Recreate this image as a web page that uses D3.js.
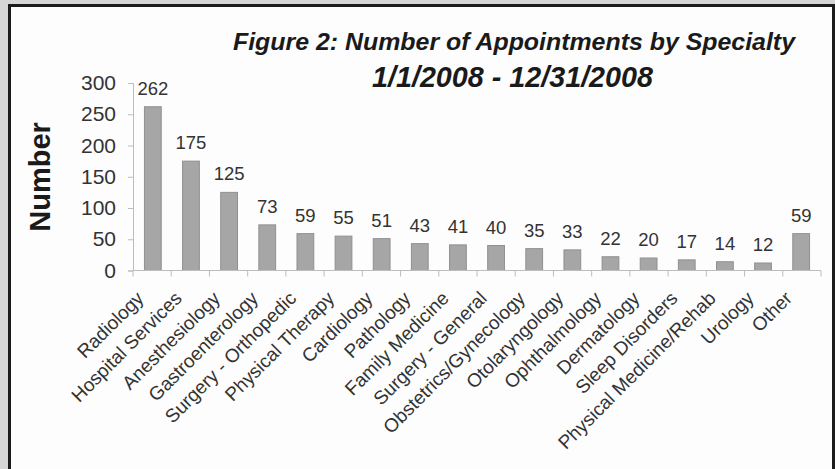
<!DOCTYPE html>
<html>
<head>
<meta charset="utf-8">
<script src="https://cdn.jsdelivr.net/npm/d3@7"></script>
<style>
  html, body { margin: 0; padding: 0; background: #d6d6d6; }
  svg { display: block; }
</style>
</head>
<body>
<svg id="chart" width="835" height="469"></svg>
<script>
// Appointments per specialty, calendar year 2008
const specialties = [
  "Radiology", "Hospital Services", "Anesthesiology", "Gastroenterology",
  "Surgery - Orthopedic", "Physical Therapy", "Cardiology", "Pathology",
  "Family Medicine", "Surgery - General", "Obstetrics/Gynecology",
  "Otolaryngology", "Ophthalmology", "Dermatology", "Sleep Disorders",
  "Physical Medicine/Rehab", "Urology", "Other"
];
const appointments = [262, 175, 125, 73, 59, 55, 51, 43, 41, 40, 35, 33, 22, 20, 17, 14, 12, 59];
const yTicks = [0, 50, 100, 150, 200, 250, 300];
const titleLines = ["Figure 2: Number of Appointments by Specialty", "1/1/2008 - 12/31/2008"];
const yAxisTitle = "Number";

const svg = d3.select("#chart");
const W = 835, H = 469;

// framed panel
svg.append("rect").attr("x", 0).attr("y", 0).attr("width", W).attr("height", H).attr("fill", "#d6d6d6");
svg.append("rect").attr("x", 9.5).attr("y", 5.5).attr("width", 824).attr("height", 470)
  .attr("fill", "#fdfdfd").attr("stroke", "#1c1c1c").attr("stroke-width", 3);

const plot = { left: 133, right: 821, top: 83, bottom: 270.5 };

const x = d3.scaleBand()
  .domain(specialties)
  .range([plot.left, plot.right])
  .paddingInner(0.56)
  .paddingOuter(0.3);

const y = d3.scaleLinear().domain([0, 300]).range([plot.bottom, plot.top]);

// bars
svg.append("g").selectAll("rect")
  .data(specialties)
  .join("rect")
  .attr("x", (d) => x(d))
  .attr("y", (d, i) => y(appointments[i]))
  .attr("width", x.bandwidth())
  .attr("height", (d, i) => y(0) - y(appointments[i]))
  .attr("fill", "#a6a6a6")
  .attr("stroke", "#909090")
  .attr("stroke-width", 1);

// value labels
svg.append("g").selectAll("text")
  .data(specialties)
  .join("text")
  .attr("x", (d) => x(d) + x.bandwidth() / 2)
  .attr("y", (d, i) => y(appointments[i]) - 12)
  .attr("text-anchor", "middle")
  .attr("font-family", "Liberation Sans, Arial, sans-serif")
  .attr("font-size", 18.5)
  .attr("fill", "#333")
  .text((d, i) => appointments[i]);

// y axis
const yAxis = d3.axisLeft(y).tickValues(yTicks).tickSize(5).tickPadding(12);
const gy = svg.append("g").attr("transform", `translate(${plot.left},0)`).call(yAxis);
gy.select(".domain").attr("stroke", "#bdbdbd");
gy.selectAll(".tick line").attr("stroke", "#bdbdbd");
gy.selectAll(".tick text")
  .attr("font-family", "Liberation Sans, Arial, sans-serif")
  .attr("font-size", 21)
  .attr("fill", "#333");

// x axis: ticks sit on the category boundaries
const boundaries = d3.range(specialties.length + 1).map((i) => plot.left + i * (plot.right - plot.left) / specialties.length);
const gx = svg.append("g");
gx.append("line")
  .attr("x1", plot.left).attr("x2", plot.right)
  .attr("y1", plot.bottom).attr("y2", plot.bottom)
  .attr("stroke", "#bdbdbd");
gx.selectAll("line.tick")
  .data(boundaries)
  .join("line")
  .attr("class", "tick")
  .attr("x1", (d) => d).attr("x2", (d) => d)
  .attr("y1", plot.bottom).attr("y2", plot.bottom + 6)
  .attr("stroke", "#bdbdbd");

// rotated category labels
svg.append("g").selectAll("text")
  .data(specialties)
  .join("text")
  .attr("transform", (d) => `translate(${x(d) + x.bandwidth() / 2 - 8},${plot.bottom + 29}) rotate(-45)`)
  .attr("text-anchor", "end")
  .attr("font-family", "Liberation Sans, Arial, sans-serif")
  .attr("font-size", 19)
  .attr("fill", "#333")
  .text((d) => d);

// y axis title
svg.append("text")
  .attr("transform", "translate(50,177) rotate(-90)")
  .attr("text-anchor", "middle")
  .attr("font-family", "Liberation Sans, Arial, sans-serif")
  .attr("font-weight", "bold")
  .attr("font-size", 29)
  .attr("fill", "#1a1a1a")
  .text(yAxisTitle);

// chart title
svg.append("text")
  .attr("x", 514).attr("y", 50)
  .attr("text-anchor", "middle")
  .attr("font-family", "Liberation Sans, Arial, sans-serif")
  .attr("font-weight", "bold").attr("font-style", "italic")
  .attr("font-size", 24)
  .attr("textLength", 562).attr("lengthAdjust", "spacingAndGlyphs")
  .attr("fill", "#1a1a1a")
  .text(titleLines[0]);
svg.append("text")
  .attr("x", 512.5).attr("y", 86.5)
  .attr("text-anchor", "middle")
  .attr("font-family", "Liberation Sans, Arial, sans-serif")
  .attr("font-weight", "bold").attr("font-style", "italic")
  .attr("font-size", 29)
  .attr("textLength", 281).attr("lengthAdjust", "spacingAndGlyphs")
  .attr("fill", "#1a1a1a")
  .text(titleLines[1]);
</script>
</body>
</html>
